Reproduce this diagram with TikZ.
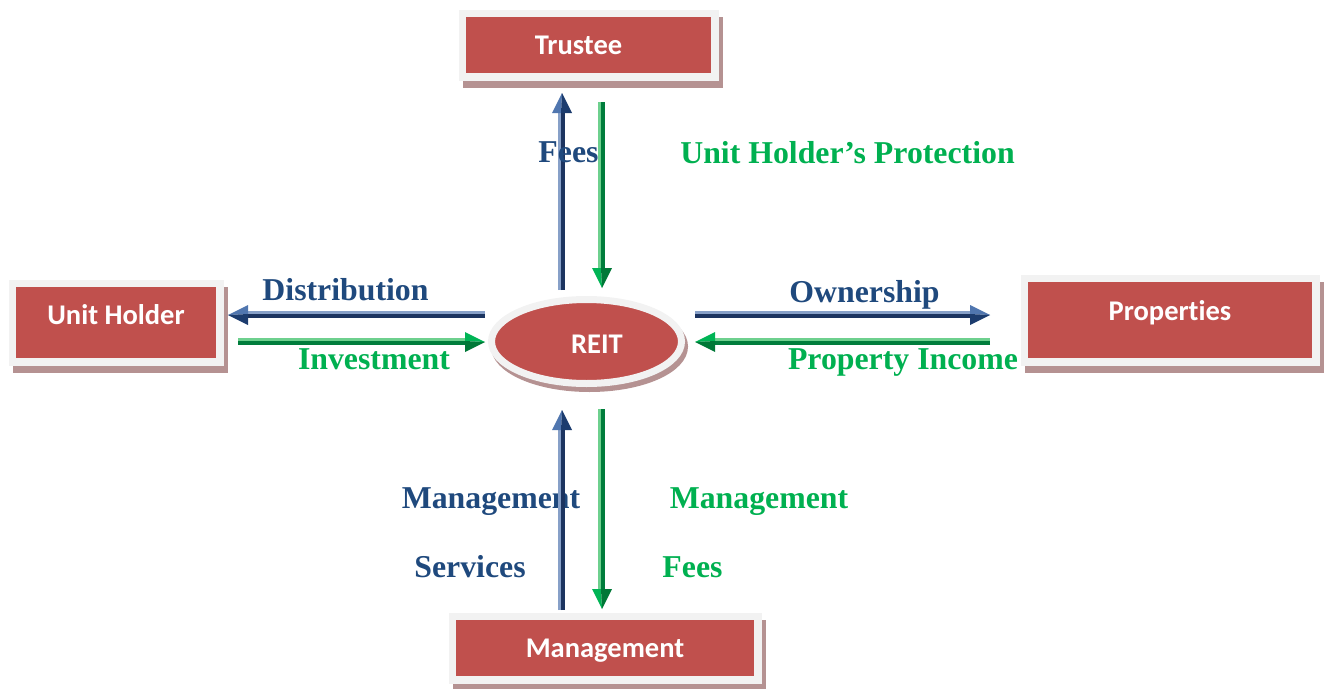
\documentclass[tikz,border=0pt]{standalone}
\usepackage{fontspec}
\setmainfont{Liberation Serif}
\setsansfont{Carlito}[Ligatures=NoCommon]
\usetikzlibrary{calc,shapes.geometric}

\definecolor{boxred}{RGB}{192,80,77}
\definecolor{framegray}{RGB}{242,242,242}
\definecolor{shadowcol}{RGB}{181,146,146}
\definecolor{labelblue}{RGB}{31,73,125}
\definecolor{labelgreen}{RGB}{0,176,80}
\definecolor{bluelight}{RGB}{135,160,200}
\definecolor{bluedark}{RGB}{28,52,96}
\definecolor{blueheadl}{RGB}{80,118,175}
\definecolor{blueheadd}{RGB}{28,60,110}
\definecolor{greenlight}{RGB}{110,208,142}
\definecolor{greendark}{RGB}{0,125,60}
\definecolor{greenheadl}{RGB}{0,180,85}
\definecolor{greenheadd}{RGB}{0,120,55}

% Flow arrow drawn as a light and a dark parallel line with a two-tone head.
% #1 colour set (blue/green), #2 start, #3 tip, #4 unit step toward the light side
\newcommand\flowarrow[4]{%
  \coordinate (fa-base) at ($(#3)!20pt!(#2)$);
  \draw[#1light, line width=2.6pt] ($(#2)+2.6*#4$) -- ($(fa-base)+2.6*#4$);
  \draw[#1dark, line width=3.2pt] ($(#2)-1*#4$) -- ($(fa-base)-1*#4$);
  \fill[#1headl] (#3) -- ($(fa-base)+1*#4$) -- ($(fa-base)+10*#4$) -- cycle;
  \fill[#1headd] (#3) -- ($(fa-base)+1*#4$) -- ($(fa-base)-10*#4$) -- cycle;
}

\begin{document}
\begin{tikzpicture}[x=1pt, y=-1pt,
  box/.style={rectangle, fill=boxred, draw=framegray, line width=7.5pt,
    inner sep=0pt, text=white, text height=18.4pt, text depth=0pt,
    font=\sffamily\bfseries\fontsize{28.5}{30}\selectfont,
    preaction={draw=shadowcol, fill=shadowcol,
      transform canvas={shift={(4pt,-7pt)}}}},
  hub/.style={ellipse, fill=boxred, draw=framegray, line width=7pt,
    inner sep=0pt, text=white, text height=23.4pt, text depth=0pt,
    font=\sffamily\bfseries\fontsize{28.5}{30}\selectfont,
    preaction={draw=shadowcol, fill=shadowcol,
      transform canvas={shift={(3pt,-5pt)}}}},
  lbl/.style={font=\bfseries\fontsize{31.8}{34}\selectfont, anchor=base, inner sep=0pt},
  bluelbl/.style={lbl, text=labelblue},
  greenlbl/.style={lbl, text=labelgreen}]

\useasboundingbox (0,0) rectangle (1325,688);

% Parties
\node[box, minimum width=252.5pt, minimum height=63.5pt] (trustee) at (588.5,45) {Trustee\hspace*{20pt}};
\node[box, minimum width=207.5pt, minimum height=78.5pt, text height=3.4pt] (holder) at (116,322.5) {Unit Holder};
\node[box, minimum width=291.5pt, minimum height=83.5pt, text height=0.4pt] (props) at (1170,320) {Properties};
\node[box, minimum width=305.5pt, minimum height=63.5pt] (mgmt) at (605,648) {Management};
\node[hub, minimum width=190pt, minimum height=84pt] (reit) at (586.5,341.5) {\hspace*{21pt}REIT};

% Label lying under its arrow
\node[bluelbl] (lmgmtsvc) at (491,508) {Management};

% Arrow end points
\coordinate (fees-s) at (562,290);   \coordinate (fees-e) at (562,93);
\coordinate (prot-s) at (602,102);   \coordinate (prot-e) at (602,288);
\coordinate (dist-s) at (485,315);   \coordinate (dist-e) at (228,315);
\coordinate (inv-s)  at (238,342);   \coordinate (inv-e)  at (485,342);
\coordinate (own-s)  at (695,315);   \coordinate (own-e)  at (990,315);
\coordinate (inc-s)  at (990,342);   \coordinate (inc-e)  at (695,342);
\coordinate (svc-s)  at (562,610);   \coordinate (svc-e)  at (562,410);
\coordinate (mfee-s) at (602,409);   \coordinate (mfee-e) at (602,609);

\flowarrow{blue}{fees-s}{fees-e}{(-1,0)}
\flowarrow{green}{prot-s}{prot-e}{(-1,0)}
\flowarrow{blue}{dist-s}{dist-e}{(0,-1)}
\flowarrow{green}{inv-s}{inv-e}{(0,-1)}
\flowarrow{blue}{own-s}{own-e}{(0,-1)}
\flowarrow{green}{inc-s}{inc-e}{(0,-1)}
\flowarrow{blue}{svc-s}{svc-e}{(-1,0)}
\flowarrow{green}{mfee-s}{mfee-e}{(-1,0)}

% Labels
\node[bluelbl]  (lfees)  at (568.5,162) {Fees};
\node[greenlbl] (lprot)  at (847.5,163) {Unit Holder’s Protection};
\node[bluelbl]  (ldist)  at (345.5,300) {Distribution};
\node[greenlbl] (linv)   at (374,369)   {Investment};
\node[bluelbl]  (lown)   at (864.5,302) {Ownership};
\node[greenlbl] (linc)   at (903,369)   {Property Income};
\node[bluelbl]  (lsvc)   at (470,577)   {Services};
\node[greenlbl] (lmfee1) at (759,508)   {Management};
\node[greenlbl] (lmfee2) at (692.5,577) {Fees};
\end{tikzpicture}
\end{document}
